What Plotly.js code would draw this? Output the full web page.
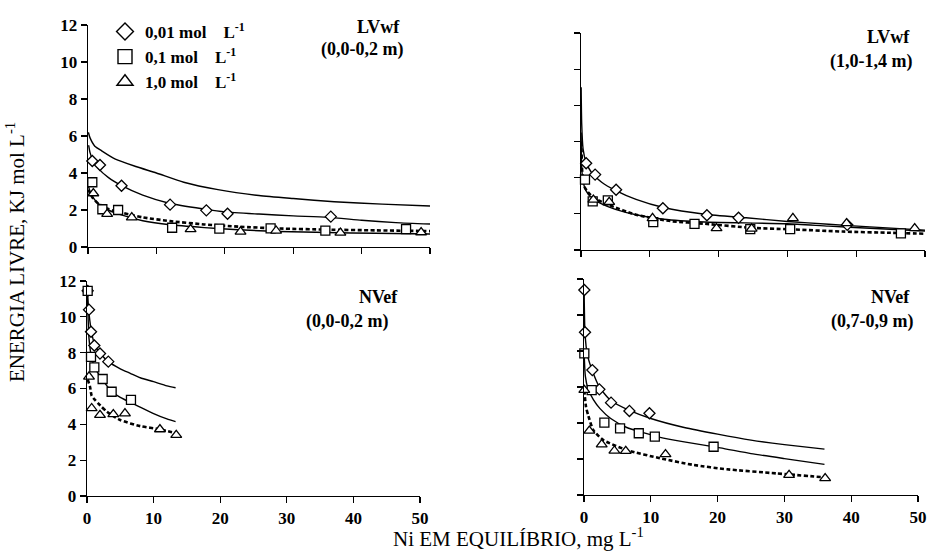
<!DOCTYPE html>
<html>
<head>
<meta charset="utf-8">
<script src="https://cdn.plot.ly/plotly-3.0.1.min.js"></script>
<style>html,body{margin:0;padding:0;background:#fff;}#chart{width:930px;height:554px;}</style>
</head>
<body>
<div id="chart"></div>
<script>
// ---- Texts ----
const NB = '\u00A0';
const seriesNames = ['0,01 mol' + NB + NB + NB + ' L<sup>-1</sup>', '0,1 mol' + NB + NB + NB + ' L<sup>-1</sup>', '1,0 mol' + NB + NB + NB + ' L<sup>-1</sup>'];
const panelNames = ['LVwf', 'LVwf', 'NVef', 'NVef'];
const panelDepths = ['(0,0-0,2 m)', '(1,0-1,4 m)', '(0,0-0,2 m)', '(0,7-0,9 m)'];
const xTickVals = [0, 10, 20, 30, 40, 50];
const yTickVals = [0, 2, 4, 6, 8, 10, 12];

// ---- Panel 1: LVwf (0,0-0,2 m) ----
const tl_d_x = [0.63, 1.75, 4.9, 12.0, 17.3, 20.4, 35.5];
const tl_d_y = [4.65, 4.43, 3.31, 2.29, 1.98, 1.80, 1.64];
const tl_s_x = [0.63, 2.1, 4.4, 12.3, 19.2, 26.7, 34.7, 46.5];
const tl_s_y = [3.5, 2.04, 2.0, 1.04, 0.99, 1.01, 0.88, 0.97];
const tl_t_x = [0.78, 2.8, 6.4, 15.0, 22.3, 27.5, 36.9, 48.7];
const tl_t_y = [2.9, 1.78, 1.6, 0.96, 0.83, 0.88, 0.77, 0.79];
const tl_c1_x = [0.05, 0.3, 1, 2, 4, 7, 10, 14, 19, 25, 30, 36, 43, 50];
const tl_c1_y = [6.2, 5.9, 5.45, 5.2, 4.75, 4.35, 4.0, 3.5, 3.1, 2.78, 2.62, 2.45, 2.32, 2.22];
const tl_c2_x = [0.1, 0.3, 0.7, 1.5, 3, 5, 8, 12, 17, 20, 25, 30, 35, 40, 45, 50];
const tl_c2_y = [5.5, 5.1, 4.7, 4.25, 3.75, 3.3, 2.8, 2.35, 2.05, 1.9, 1.78, 1.68, 1.6, 1.45, 1.32, 1.24];
const tl_c3_x = [0.05, 0.3, 0.7, 1.5, 3, 5, 8, 12, 17, 22, 28, 35, 42, 50];
const tl_c3_y = [3.3, 3.0, 2.7, 2.35, 2.0, 1.72, 1.42, 1.2, 1.05, 0.93, 0.84, 0.78, 0.74, 0.7];
const tl_c4_x = [0.05, 0.3, 0.7, 1.5, 3, 5, 8, 12, 17, 22, 28, 35, 42, 50];
const tl_c4_y = [3.1, 2.9, 2.65, 2.35, 2.05, 1.85, 1.6, 1.4, 1.22, 1.1, 1.0, 0.94, 0.9, 0.86];

// ---- Panel 2: LVwf (1,0-1,4 m) ----
const tr_d_x = [0.75, 2.05, 5.1, 11.9, 18.3, 22.9, 38.7];
const tr_d_y = [4.8, 4.17, 3.33, 2.31, 1.92, 1.78, 1.39];
const tr_s_x = [0.58, 1.7, 3.9, 10.5, 16.5, 24.6, 30.4, 46.5];
const tr_s_y = [3.89, 2.69, 2.74, 1.54, 1.44, 1.15, 1.15, 0.92];
const tr_t_x = [1.8, 4.1, 10.4, 19.7, 24.8, 30.8, 38.6, 48.5];
const tr_t_y = [2.78, 2.65, 1.76, 1.2, 1.18, 1.76, 1.48, 1.2];
const tr_c1_x = [0.02, 0.1, 0.3, 0.7, 1.5, 3, 5, 8, 12, 18, 24, 30, 36, 42, 50];
const tr_c1_y = [9.0, 7.0, 5.6, 4.9, 4.3, 3.75, 3.3, 2.8, 2.35, 1.98, 1.78, 1.58, 1.42, 1.28, 1.1];
const tr_c2_x = [0.02, 0.1, 0.3, 0.7, 1.5, 3, 5, 8, 12, 18, 24, 30, 36, 42, 50];
const tr_c2_y = [6.5, 4.6, 3.8, 3.3, 2.9, 2.55, 2.25, 1.95, 1.7, 1.55, 1.5, 1.45, 1.32, 1.2, 1.05];
const tr_c3_x = [0.05, 0.2, 0.5, 1, 2, 4, 8, 13, 18, 25, 30, 38, 45, 50];
const tr_c3_y = [6.0, 4.2, 3.5, 3.2, 2.85, 2.5, 1.95, 1.6, 1.45, 1.22, 1.15, 1.02, 0.95, 0.9];

// ---- Panel 3: NVef (0,0-0,2 m) ----
const bl_d_x = [0.1, 0.3, 0.6, 1.1, 1.95, 3.2];
const bl_d_y = [11.45, 10.4, 9.17, 8.4, 7.95, 7.5];
const bl_s_x = [0.1, 0.6, 1.1, 2.35, 3.7, 6.6];
const bl_s_y = [11.45, 7.77, 7.18, 6.53, 5.82, 5.36];
const bl_t_x = [0.3, 0.7, 1.95, 3.95, 5.7, 10.95, 13.4];
const bl_t_y = [6.66, 4.9, 4.52, 4.56, 4.61, 3.72, 3.4];
const bl_c1_x = [0.05, 0.3, 0.7, 1.2, 2, 3.2, 5, 6.5, 8, 10, 12, 13.3];
const bl_c1_y = [11.4, 10.2, 9.1, 8.4, 7.95, 7.5, 7.1, 6.85, 6.6, 6.38, 6.15, 6.04];
const bl_c2_x = [0.05, 0.3, 0.7, 1.2, 2.3, 3.7, 5, 7.5, 10, 12, 13.3];
const bl_c2_y = [11.4, 8.8, 7.7, 7.15, 6.5, 5.85, 5.5, 5.05, 4.6, 4.3, 4.15];
const bl_c3_x = [0.1, 0.45, 0.7, 1.2, 2, 3, 5, 8, 11, 13.4];
const bl_c3_y = [6.5, 6.1, 5.6, 5.36, 5.05, 4.7, 4.24, 3.9, 3.72, 3.5];

// ---- Panel 4: NVef (0,7-0,9 m) ----
const br_d_x = [0.05, 0.15, 1.25, 2.3, 4.05, 6.8, 9.8];
const br_d_y = [11.39, 9.04, 6.94, 5.87, 5.13, 4.67, 4.54];
const br_s_x = [0.05, 1.15, 3.05, 5.4, 8.2, 10.6, 19.4];
const br_s_y = [7.87, 5.83, 4.02, 3.7, 3.43, 3.24, 2.68];
const br_t_x = [0.05, 0.8, 2.65, 4.55, 6.25, 12.2, 30.7, 36.1];
const br_t_y = [5.83, 3.57, 2.81, 2.46, 2.44, 2.26, 1.11, 0.93];
const br_c1_x = [0.02, 0.15, 0.5, 1.25, 2.3, 4, 6.8, 10, 15, 20, 25, 30, 36];
const br_c1_y = [11.3, 9.0, 7.8, 6.9, 6.0, 5.25, 4.7, 4.25, 3.75, 3.38, 3.05, 2.8, 2.55];
const br_c2_x = [0.02, 0.2, 0.6, 1.4, 2.4, 4, 6.4, 9, 11.4, 15, 20.4, 25, 30, 36];
const br_c2_y = [7.9, 6.6, 5.9, 5.3, 4.8, 4.25, 3.75, 3.45, 3.2, 2.95, 2.62, 2.3, 2.02, 1.7];
const br_c3_x = [0.05, 0.3, 0.65, 1.4, 2.9, 6.4, 11.4, 16.4, 21.4, 28.8, 36.1];
const br_c3_y = [5.8, 4.9, 4.4, 3.6, 3.05, 2.5, 2.04, 1.67, 1.43, 1.2, 0.98];

// ---- build traces ----
const SERIF = 'Liberation Serif';
const solid = {color: '#000', width: 1.4};
const dotted = {color: '#000', width: 2.6, dash: '4px,2.5px'};
const symbols = ['diamond', 'square', 'triangle-up'];
const symSizes = [8.5, 9, 9.5];
const legSizes = [13, 14, 14];
const traces = [];

function curve(x, y, ax, line) {
  traces.push({x: x, y: y, xaxis: 'x' + ax, yaxis: 'y' + ax, type: 'scatter', mode: 'lines',
    line: Object.assign({shape: 'spline', smoothing: 0.6}, line), showlegend: false, hoverinfo: 'skip'});
}
function points(x, y, ax, k) {
  traces.push({x: x, y: y, xaxis: 'x' + ax, yaxis: 'y' + ax, type: 'scatter', mode: 'markers',
    name: seriesNames[k], showlegend: false, cliponaxis: false,
    marker: {symbol: symbols[k], size: symSizes[k], color: '#fff', line: {color: '#000', width: 1.3}}});
}

curve(tl_c1_x, tl_c1_y, '', solid);
curve(tl_c2_x, tl_c2_y, '', solid);
curve(tl_c3_x, tl_c3_y, '', solid);
curve(tl_c4_x, tl_c4_y, '', dotted);
points(tl_d_x, tl_d_y, '', 0);
points(tl_s_x, tl_s_y, '', 1);
points(tl_t_x, tl_t_y, '', 2);

curve(tr_c1_x, tr_c1_y, '2', solid);
curve(tr_c2_x, tr_c2_y, '2', solid);
curve(tr_c3_x, tr_c3_y, '2', dotted);
points(tr_d_x, tr_d_y, '2', 0);
points(tr_s_x, tr_s_y, '2', 1);
points(tr_t_x, tr_t_y, '2', 2);

curve(bl_c1_x, bl_c1_y, '3', solid);
curve(bl_c2_x, bl_c2_y, '3', solid);
curve(bl_c3_x, bl_c3_y, '3', dotted);
points(bl_d_x, bl_d_y, '3', 0);
points(bl_s_x, bl_s_y, '3', 1);
points(bl_t_x, bl_t_y, '3', 2);

curve(br_c1_x, br_c1_y, '4', solid);
curve(br_c2_x, br_c2_y, '4', solid);
curve(br_c3_x, br_c3_y, '4', dotted);
points(br_d_x, br_d_y, '4', 0);
points(br_s_x, br_s_y, '4', 1);
points(br_t_x, br_t_y, '4', 2);

// legend entries (larger symbols, as in the reference key)
[0, 1, 2].forEach(k => traces.push({x: [null], y: [null], type: 'scatter', mode: 'markers', name: seriesNames[k],
  showlegend: true, marker: {symbol: symbols[k], size: legSizes[k], color: '#fff', line: {color: '#000', width: 1.4}}}));

// ---- axes ----
const W = 930, H = 554;
function xd(a, b) { return [a / W, b / W]; }
function yd(top, bottom) { return [(H - bottom) / H, (H - top) / H]; }
const tickFont = {family: SERIF, size: 17, color: '#000', weight: 'bold'};
function xax(dom, anchor, labels) {
  return {domain: dom, anchor: anchor, range: [0, 50], tickvals: xTickVals, showticklabels: labels,
    showline: true, linecolor: '#000', linewidth: 1.3, ticks: 'outside', ticklen: 6, tickcolor: '#000', tickwidth: 1.2,
    showgrid: false, zeroline: false, fixedrange: true, tickfont: tickFont};
}
function yax(dom, anchor, labels) {
  return {domain: dom, anchor: anchor, range: [0, 12], tickvals: yTickVals, showticklabels: labels,
    showline: true, linecolor: '#000', linewidth: 1.3, ticks: 'outside', ticklen: 6, tickcolor: '#000', tickwidth: 1.2,
    showgrid: false, zeroline: false, fixedrange: true, tickfont: tickFont};
}

const annFont = {family: SERIF, size: 18, color: '#000', weight: 'bold'};
function lab(text, xr, yc) {
  return {text: text, xref: 'paper', yref: 'paper', x: xr / W, y: (H - yc) / H, xanchor: 'right', yanchor: 'middle',
    showarrow: false, font: annFont};
}

const layout = {
  width: W, height: H,
  margin: {l: 0, r: 0, t: 0, b: 0},
  paper_bgcolor: '#fff', plot_bgcolor: 'rgba(0,0,0,0)',
  showlegend: true,
  legend: {x: 105 / W, y: (H - 14) / H, xanchor: 'left', yanchor: 'top', bgcolor: 'rgba(0,0,0,0)',
    font: {family: SERIF, size: 17, color: '#000', weight: 'bold'}, tracegroupgap: 0},
  xaxis: xax(xd(88, 430), 'y', false),
  yaxis: yax(yd(25, 247), 'x', true),
  xaxis2: xax(xd(581, 925), 'y2', false),
  yaxis2: yax(yd(33, 250), 'x2', false),
  xaxis3: xax(xd(87, 420), 'y3', true),
  yaxis3: yax(yd(281, 496), 'x3', true),
  xaxis4: xax(xd(584, 918), 'y4', true),
  yaxis4: yax(yd(279, 495), 'x4', false),
  annotations: [
    lab(panelNames[0], 402, 27), lab(panelDepths[0], 405, 49),
    lab(panelNames[1], 912, 37), lab(panelDepths[1], 914, 61),
    lab(panelNames[2], 400, 297), lab(panelDepths[2], 390, 321),
    lab(panelNames[3], 912, 297), lab(panelDepths[3], 915, 321),
    {text: 'ENERGIA LIVRE, KJ mol L<sup>-1</sup>', xref: 'paper', yref: 'paper', x: 15 / W, y: (H - 252) / H,
      xanchor: 'center', yanchor: 'middle', textangle: -90, showarrow: false,
      font: {family: SERIF, size: 21, color: '#000'}},
    {text: 'Ni EM EQUILÍBRIO, mg L<sup>-1</sup>', xref: 'paper', yref: 'paper', x: 518 / W, y: (H - 537) / H,
      xanchor: 'center', yanchor: 'middle', showarrow: false,
      font: {family: SERIF, size: 21, color: '#000'}}
  ]
};

Plotly.newPlot('chart', traces, layout, {staticPlot: true, displayModeBar: false});
</script>
</body>
</html>
